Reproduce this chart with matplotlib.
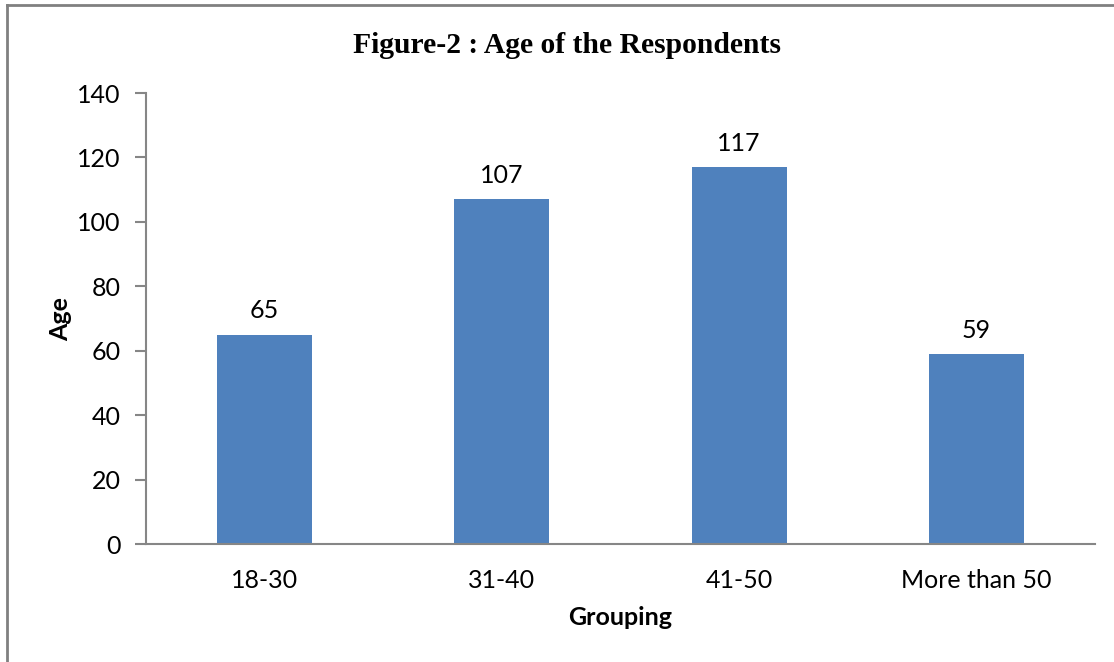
import matplotlib
matplotlib.use("Agg")
import matplotlib.pyplot as plt
from matplotlib.lines import Line2D

categories = ["18-30", "31-40", "41-50", "More than 50"]
counts = [65, 107, 117, 59]
y_ticks = [0, 20, 40, 60, 80, 100, 120, 140]

bar_color = "#4F81BD"
axis_color = "#868686"
label_font = "Lato"

fig = plt.figure(figsize=(11.14, 6.62), dpi=100)
ax = fig.add_axes([0.131, 0.178, 0.852, 0.6815])

x = range(len(categories))
bars = ax.bar(x, counts, width=0.40, color=bar_color, zorder=2)

ax.set_xlim(-0.5, len(categories) - 0.5)
ax.set_ylim(0, 140)
ax.set_yticks(y_ticks)
ax.set_xticks(list(x))
ax.set_xticklabels(categories)

for side in ("top", "right"):
    ax.spines[side].set_visible(False)
for side in ("left", "bottom"):
    ax.spines[side].set_color(axis_color)
    ax.spines[side].set_linewidth(1.5)

ax.tick_params(axis="y", direction="out", length=8, width=1.5, color=axis_color,
               labelsize=18, pad=10)
ax.tick_params(axis="x", length=0, labelsize=18, pad=18)
for lbl in ax.get_xticklabels() + ax.get_yticklabels():
    lbl.set_fontfamily(label_font)

for b, v in zip(bars, counts):
    ax.annotate(str(v), (b.get_x() + b.get_width() / 2, v),
                xytext=(0, 9), textcoords="offset points",
                ha="center", va="bottom", fontsize=18, family=label_font)

ax.set_ylabel("Age", fontsize=18, fontweight="bold", family=label_font, labelpad=4)
ax.set_xlabel("Grouping", fontsize=18, fontweight="bold", family=label_font, labelpad=10)

fig.text(0.509, 0.932, "Figure-2 : Age of the Respondents", ha="center", va="center",
         fontsize=21.3, fontweight="bold", family="Liberation Serif")

# frame lines along the top and left edge of the figure
fig.add_artist(Line2D([7 / 1114, 7 / 1114], [0, 1 - 5 / 662], transform=fig.transFigure,
                      color="#808080", linewidth=2))
fig.add_artist(Line2D([7 / 1114, 1], [1 - 5 / 662, 1 - 5 / 662], transform=fig.transFigure,
                      color="#808080", linewidth=2))

fig.savefig("out.png", dpi=100)
